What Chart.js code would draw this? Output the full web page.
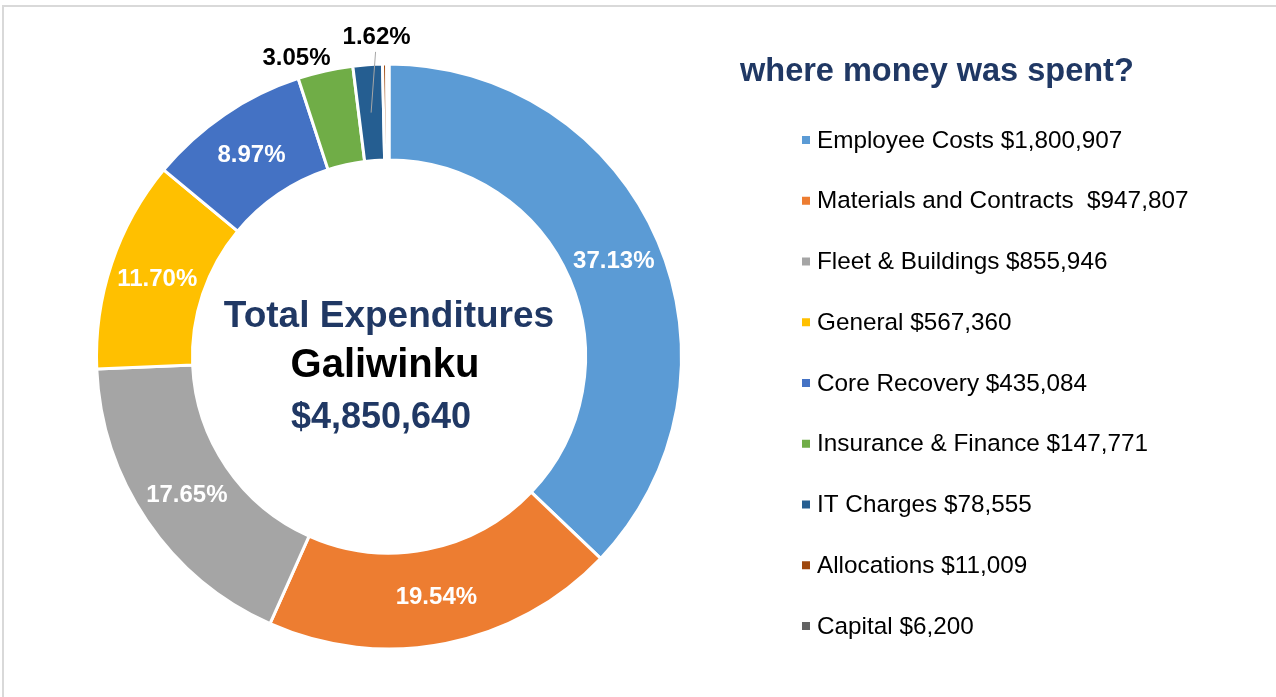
<!DOCTYPE html>
<html>
<head>
<meta charset="utf-8">
<script src="https://cdn.jsdelivr.net/npm/chart.js@4/dist/chart.umd.min.js"></script>
<style>
  html, body { margin: 0; padding: 0; background: #ffffff; overflow: hidden; }
  #wrap { position: relative; width: 1276px; height: 697px; }
  canvas { display: block; }
</style>
</head>
<body>
<div id="wrap"><canvas id="c" width="1276" height="697"></canvas></div>
<script>
// ---- data ----
const categories = ["Employee Costs", "Materials and Contracts ", "Fleet & Buildings", "General", "Core Recovery", "Insurance & Finance", "IT Charges", "Allocations", "Capital"];
const values = [1800907, 947807, 855946, 567360, 435084, 147771, 78555, 11009, 6200];
const colors = ["#5B9BD5", "#ED7D31", "#A5A5A5", "#FFC000", "#4472C4", "#70AD47", "#255E91", "#9E480E", "#636363"];
const legendTitle = "where money was spent?";
const centerLines = ["Total Expenditures", "Galiwinku", "$4,850,640"];
const insideLabelIdx = [0, 1, 2, 3, 4];
const outsideLabelIdx = [5, 6];

const FONT = "'Liberation Sans', Arial, sans-serif";
const NAVY = "#203864";
const total = values.reduce((a, b) => a + b, 0);
const fmtMoney = v => "$" + v.toLocaleString("en-US");
const pct = v => (v / total * 100).toFixed(2) + "%";

const framePlugin = {
  id: "frame",
  beforeDraw(chart) {
    const ctx = chart.ctx;
    ctx.save();
    ctx.strokeStyle = "#D9D9D9";
    ctx.lineWidth = 2;
    ctx.strokeRect(3, 6, 1300, 720);
    ctx.restore();
  }
};

const labelPlugin = {
  id: "labels",
  afterDatasetsDraw(chart) {
    const ctx = chart.ctx;
    const meta = chart.getDatasetMeta(0);
    ctx.save();
    // inside labels
    ctx.font = "bold 24px " + FONT;
    ctx.textAlign = "center";
    ctx.textBaseline = "middle";
    insideLabelIdx.forEach(i => {
      const arc = meta.data[i];
      const p = arc.tooltipPosition();
      ctx.fillStyle = "#FFFFFF";
      ctx.fillText(pct(values[i]), p.x, p.y + 1);
    });
    // outside labels
    outsideLabelIdx.forEach((i, k) => {
      const arc = meta.data[i];
      const mid = (arc.startAngle + arc.endAngle) / 2;
      const r = arc.outerRadius;
      const cx = arc.x, cy = arc.y;
      let lx, ly;
      if (k === 0) {
        lx = cx + Math.cos(mid) * (r + 22) - 24;
        ly = cy + Math.sin(mid) * (r + 22) + 8;
      } else {
        lx = cx + Math.cos(mid) * (r + 28) + 11;
        ly = cy + Math.sin(mid) * (r + 28);
        // leader line
        const mr = (arc.innerRadius + arc.outerRadius) / 2;
        ctx.strokeStyle = "#A6A6A6";
        ctx.lineWidth = 1;
        ctx.beginPath();
        ctx.moveTo(cx + Math.cos(mid) * mr, cy + Math.sin(mid) * mr);
        ctx.lineTo(lx - 1, ly + 15);
        ctx.stroke();
      }
      ctx.fillStyle = "#000000";
      ctx.fillText(pct(values[i]), lx, ly + 1);
    });
    // center text
    const c = meta.data[0];
    ctx.textBaseline = "alphabetic";
    ctx.fillStyle = NAVY;
    ctx.font = "bold 37px " + FONT;
    ctx.fillText(centerLines[0], c.x, 327);
    ctx.fillStyle = "#000000";
    ctx.font = "bold 40px " + FONT;
    ctx.fillText(centerLines[1], c.x - 4, 377);
    ctx.fillStyle = NAVY;
    ctx.font = "bold 36px " + FONT;
    ctx.fillText(centerLines[2], c.x - 8, 428);

    // legend title
    ctx.textAlign = "left";
    ctx.fillStyle = NAVY;
    ctx.font = "bold 32.5px " + FONT;
    ctx.fillText(legendTitle, 740, 81);

    // legend items
    ctx.font = "24.3px " + FONT;
    ctx.textBaseline = "middle";
    categories.forEach((name, i) => {
      const y = 140 + i * 60.75;
      ctx.fillStyle = colors[i];
      ctx.fillRect(802, y - 4, 8, 8);
      ctx.fillStyle = "#000000";
      ctx.fillText(name + " " + fmtMoney(values[i]), 817, y + 1);
    });
    ctx.restore();
  }
};

new Chart(document.getElementById("c"), {
  type: "doughnut",
  data: {
    labels: categories,
    datasets: [{
      data: values,
      backgroundColor: colors,
      borderColor: "#FFFFFF",
      borderWidth: 3,
      hoverOffset: 0
    }]
  },
  options: {
    responsive: false,
    animation: false,
    cutout: "67.2%",
    rotation: 0,
    layout: { padding: { top: 62, bottom: 46, left: 95, right: 593 } },
    plugins: {
      legend: { display: false },
      tooltip: { enabled: false }
    },
    events: []
  },
  plugins: [framePlugin, labelPlugin]
});
</script>
</body>
</html>
